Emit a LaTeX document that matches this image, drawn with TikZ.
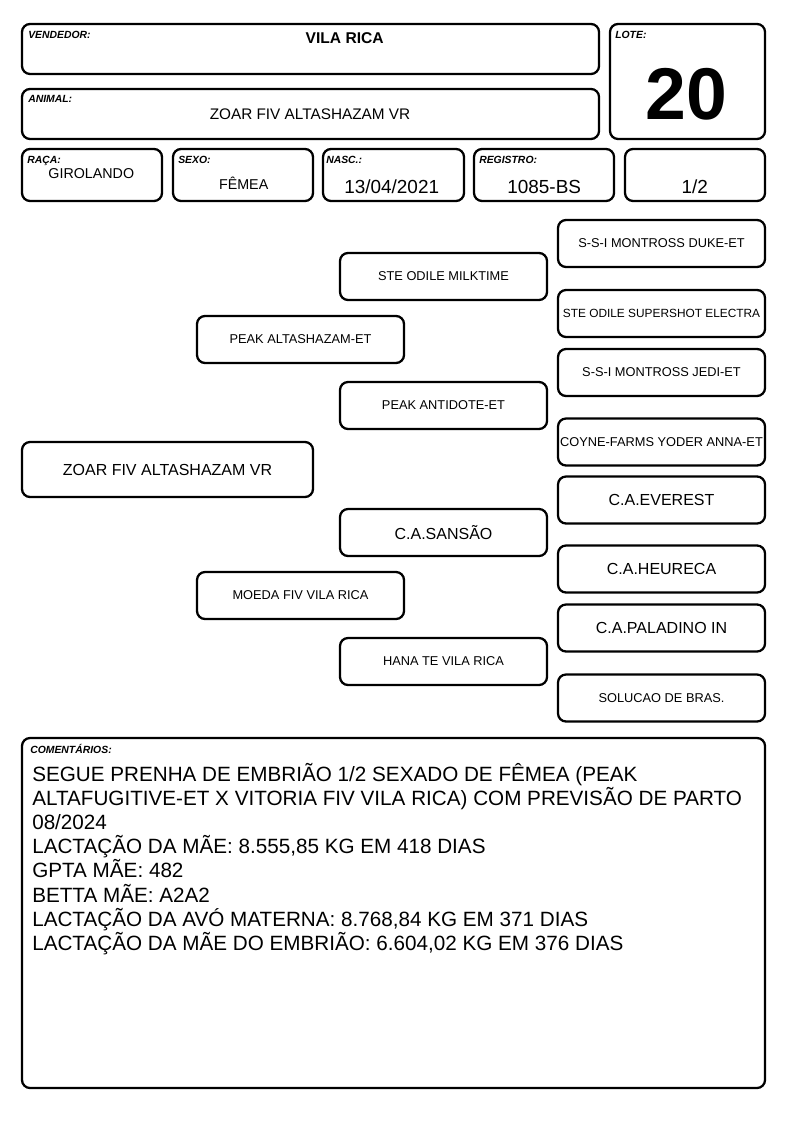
\documentclass[tikz,border=0pt]{standalone}
\usepackage{fontspec}
\setmainfont{Liberation Sans}
\usetikzlibrary{positioning}

\begin{document}
\begin{tikzpicture}[x=0.75pt,y=-0.75pt,
    card/.style={draw,line width=1.7pt,rounded corners=6pt,inner sep=0pt},
    head/.style={card,minimum width=105pt,minimum height=39pt},
    tag/.style={font=\fontsize{7.8}{9}\selectfont\bfseries\itshape,anchor=base west,inner sep=0pt},
    info/.style={anchor=base,inner sep=0pt},
    ped/.style={card,minimum width=155.25pt,minimum height=35.25pt,font=\fontsize{9.6}{11}\selectfont},
    pedbig/.style={ped,font=\fontsize{12}{14}\selectfont},
    pedtight/.style={ped,font=\fontsize{8.9}{11}\selectfont}
]
\useasboundingbox (0,0) rectangle (794,1123);
% top block
\node[card,minimum width=432.75pt,minimum height=37.5pt] (vend) at (310.5,49) {};
\node[tag] (vendtag) at (28,39) {VENDEDOR:};
\node[info,font=\fontsize{11.7}{14}\selectfont\bfseries] (vendval) at (344.7,43.3) {VILA RICA};
\node[card,minimum width=432.75pt,minimum height=37.5pt] (animal) at (310.5,114) {};
\node[tag] (animaltag) at (28,103) {ANIMAL:};
\node[info,font=\fontsize{11.5}{14}\selectfont] (animalval) at (310,119.3) {ZOAR FIV ALTASHAZAM VR};
\node[card,minimum width=116.25pt,minimum height=86.25pt] (lote) at (687.5,81.5) {};
\node[tag] (lotetag) at (615,39) {LOTE:};
\node[info,font=\fontsize{55}{60}\selectfont\bfseries] (loteval) at (686.2,120) {20};
% second row
\node[head] (raca) at (92,175) {};
\node[tag] (racatag) at (27,164) {RAÇA:};
\node[info,font=\fontsize{10.7}{13}\selectfont] (racaval) at (91.3,178.3) {GIROLANDO};
\node[head] (sexo) at (243,175) {};
\node[tag] (sexotag) at (178,164) {SEXO:};
\node[info,font=\fontsize{10.7}{13}\selectfont] (sexoval) at (243.7,189.3) {FÊMEA};
\node[head,minimum width=105.75pt] (nasc) at (393.5,175) {};
\node[tag] (nasctag) at (326,164) {NASC.:};
\node[info,font=\fontsize{14.2}{17}\selectfont] (nascval) at (391.7,193.3) {13/04/2021};
\node[head] (reg) at (544,175) {};
\node[tag] (regtag) at (479,164) {REGISTRO:};
\node[info,font=\fontsize{14.2}{17}\selectfont] (regval) at (544.2,193.3) {1085-BS};
\node[head] (grau) at (695,175) {};
\node[info,font=\fontsize{14.2}{17}\selectfont] (grauval) at (694.7,193.3) {1/2};
% pedigree
\node[pedbig,minimum width=218.25pt,minimum height=41.25pt] (zoar) at (167.5,469.5) {ZOAR FIV ALTASHAZAM VR};
\node[ped] (pai) at (300.5,339.5) {PEAK ALTASHAZAM-ET};
\node[ped] (mae) at (300.5,595.5) {MOEDA FIV VILA RICA};
\node[ped] (avpp) at (443.5,276.5) {STE ODILE MILKTIME};
\node[ped] (avmp) at (443.5,405.5) {PEAK ANTIDOTE-ET};
\node[pedbig] (avpm) at (443.5,532.5) {C.A.SANSÃO};
\node[ped] (avmm) at (443.5,661.5) {HANA TE VILA RICA};
\node[ped] (bis1) at (661.5,243.5) {S-S-I MONTROSS DUKE-ET};
\node[pedtight] (bis2) at (661.5,313.5) {STE ODILE SUPERSHOT ELECTRA};
\node[ped] (bis3) at (661.5,372.5) {S-S-I MONTROSS JEDI-ET};
\node[ped] (bis4) at (661.5,442) {COYNE-FARMS YODER ANNA-ET};
\node[pedbig] (bis5) at (661.5,500) {C.A.EVEREST};
\node[pedbig] (bis6) at (661.5,569) {C.A.HEURECA};
\node[pedbig] (bis7) at (661.5,628) {C.A.PALADINO IN};
\node[ped] (bis8) at (661.5,698) {SOLUCAO DE BRAS.};
% comments
\node[card,minimum width=557.25pt,minimum height=262.5pt] (obs) at (393.5,913) {};
\node[tag] (obstag) at (30,753) {COMENTÁRIOS:};
\node[anchor=north west,inner sep=0pt,align=left,font=\fontsize{15.5}{18.1}\selectfont] (obsval) at (32,763)
  {SEGUE PRENHA DE EMBRIÃO 1/2 SEXADO DE FÊMEA (PEAK\\
   ALTAFUGITIVE-ET X VITORIA FIV VILA RICA) COM PREVISÃO DE PARTO\\
   08/2024\\
   LACTAÇÃO DA MÃE: 8.555,85 KG EM 418 DIAS\\
   GPTA MÃE: 482\\
   BETTA MÃE: A2A2\\
   LACTAÇÃO DA AVÓ MATERNA: 8.768,84 KG EM 371 DIAS\\
   LACTAÇÃO DA MÃE DO EMBRIÃO: 6.604,02 KG EM 376 DIAS};
\end{tikzpicture}
\end{document}
